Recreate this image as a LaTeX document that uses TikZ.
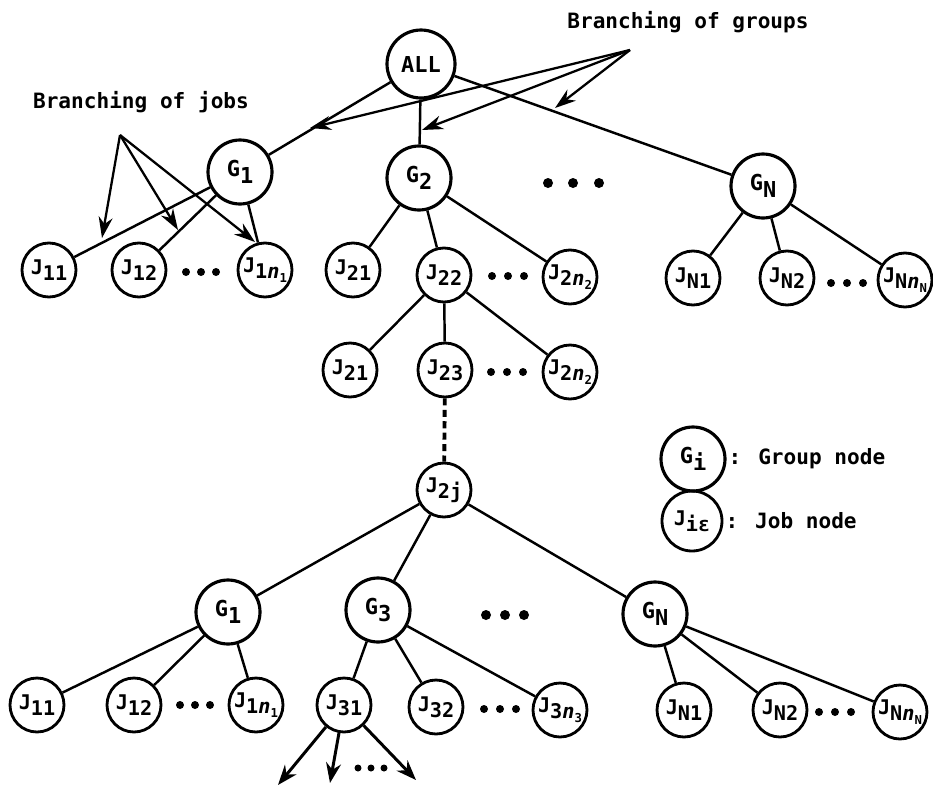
\documentclass[tikz,border=0pt]{standalone}
\usepackage{fontspec}
\setmainfont{DejaVu Sans Mono}
\usetikzlibrary{arrows.meta}
% label with a lowered index
\newcommand{\lab}[2]{#1\raisebox{-0.55ex}{#2}}
\newcommand{\nsub}[1]{\textit{n}\raisebox{-0.35ex}{\scriptsize #1}}

\begin{document}
\begin{tikzpicture}[x=0.02cm, y=-0.02cm,
    grp/.style={circle, draw, line width=1.8pt, minimum size=1.28cm, inner sep=0pt, font=\bfseries\fontsize{12.5}{14}\selectfont},
    job/.style={circle, draw, line width=1.6pt, minimum size=1.08cm, inner sep=0pt, font=\bfseries\fontsize{11.5}{13}\selectfont},
    edge/.style={line width=1.4pt},
    pointer/.style={line width=1.3pt, -{Stealth[length=4.2mm, width=2.8mm]}},
    note/.style={font=\bfseries\fontsize{12}{14}\selectfont}]
    \useasboundingbox (0,0) rectangle (933,788);

    % top level
    \node[grp, minimum size=1.36cm] (all) at (421,64) {ALL};
    \node[grp] (g1) at (240,172) {\lab{G}{1}};
    \node[grp] (g2) at (419,178) {\lab{G}{2}};
    \node[grp] (gn) at (763,186) {\lab{G}{N}};
    \node[job] (j11) at (49,270) {\lab{J}{11}};
    \node[job] (j12) at (139,270) {\lab{J}{12}};
    \node[job] (j1n) at (265,270) {\lab{J}{1\nsub{1}}};
    \node[job] (j21) at (353,270) {\lab{J}{21}};
    \node[job] (j22) at (444,275) {\lab{J}{22}};
    \node[job] (j2n) at (570,277) {\lab{J}{2\nsub{2}}};
    \node[job] (jn1) at (693,278) {\lab{J}{N1}};
    \node[job] (jn2) at (787,278) {\lab{J}{N2}};
    \node[job] (jnn) at (905,280) {\lab{J}{N\nsub{N}}};

    % below J22
    \node[job] (k21) at (350,370) {\lab{J}{21}};
    \node[job] (k23) at (445,370) {\lab{J}{23}};
    \node[job] (k2n) at (570,372) {\lab{J}{2\nsub{2}}};
    \node[job] (j2j) at (444,490) {\lab{J}{2j}};

    % below J2j
    \node[grp] (h1) at (228,612) {\lab{G}{1}};
    \node[grp] (h3) at (378,610) {\lab{G}{3}};
    \node[grp] (hn) at (655,614) {\lab{G}{N}};
    \node[job] (m11) at (37,705) {\lab{J}{11}};
    \node[job] (m12) at (134,705) {\lab{J}{12}};
    \node[job] (m1n) at (256,705) {\lab{J}{1\nsub{1}}};
    \node[job] (m31) at (344,705) {\lab{J}{31}};
    \node[job] (m32) at (436,707) {\lab{J}{32}};
    \node[job] (m3n) at (560,710) {\lab{J}{3\nsub{3}}};
    \node[job] (mn1) at (684,710) {\lab{J}{N1}};
    \node[job] (mn2) at (780,710) {\lab{J}{N2}};
    \node[job] (mnn) at (900,712) {\lab{J}{N\nsub{N}}};

    % edges
    \foreach \c in {g1,g2,gn} \draw[edge] (all) -- (\c);
    \foreach \c in {j11,j12,j1n} \draw[edge] (g1) -- (\c);
    \foreach \c in {j21,j22,j2n} \draw[edge] (g2) -- (\c);
    \foreach \c in {jn1,jn2,jnn} \draw[edge] (gn) -- (\c);
    \foreach \c in {k21,k23,k2n} \draw[edge] (j22) -- (\c);
    \draw[line width=2.2pt, dash pattern=on 4pt off 2.5pt] (k23) -- (j2j);
    \foreach \c in {h1,h3,hn} \draw[edge] (j2j) -- (\c);
    \foreach \c in {m11,m12,m1n} \draw[edge] (h1) -- (\c);
    \foreach \c in {m31,m32,m3n} \draw[edge] (h3) -- (\c);
    \foreach \c in {mn1,mn2,mnn} \draw[edge] (hn) -- (\c);

    % dots
    \foreach \x in {548,573,599} \fill (\x,183) circle (0.1cm);
    \foreach \x in {186,201,216} \fill (\x,272) circle (0.08cm);
    \foreach \x in {492,508,524} \fill (\x,276) circle (0.08cm);
    \foreach \x in {831,847,863} \fill (\x,283) circle (0.08cm);
    \foreach \x in {491,507,523} \fill (\x,372) circle (0.08cm);
    \foreach \x in {486,505,524} \fill (\x,615) circle (0.1cm);
    \foreach \x in {180,195,210} \fill (\x,705) circle (0.08cm);
    \foreach \x in {484,500,516} \fill (\x,709) circle (0.08cm);
    \foreach \x in {819,835,851} \fill (\x,712) circle (0.08cm);
    \foreach \x in {358,371,384} \fill (\x,768) circle (0.07cm);

    % arrows out of J31
    \coordinate (a1) at (278,785);
    \coordinate (a2) at (330,783);
    \coordinate (a3) at (416,780);
    \foreach \c in {a1,a2,a3}
        \draw[line width=1.7pt, -{Stealth[length=4mm, width=3mm]}] (m31) -- (\c);

    % annotations
    \node[note] (bgrp) at (688,22) {Branching of groups};
    \node[note] (bjob) at (141,102) {Branching of jobs};
    \coordinate (bg) at (630,50);
    \coordinate (bg1) at (310,128);
    \coordinate (bg2) at (422,130);
    \coordinate (bg3) at (555,108);
    \foreach \c in {bg1,bg2,bg3} \draw[pointer] (bg) -- (\c);
    \coordinate (bj) at (120,135);
    \coordinate (bj1) at (102,238);
    \coordinate (bj2) at (178,230);
    \coordinate (bj3) at (255,242);
    \foreach \c in {bj1,bj2,bj3} \draw[pointer] (bj) -- (\c);

    % legend
    \node[grp] (lg) at (693,459) {\lab{G}{i}};
    \node[job, minimum size=1.2cm] (lj) at (692,521) {\lab{J}{iε}};
    \node[note, anchor=west, inner sep=1pt] (lgt) at (lg.east) {: Group node};
    \node[note, anchor=west, inner sep=1pt] (ljt) at (lj.east) {: Job node};
\end{tikzpicture}
\end{document}
